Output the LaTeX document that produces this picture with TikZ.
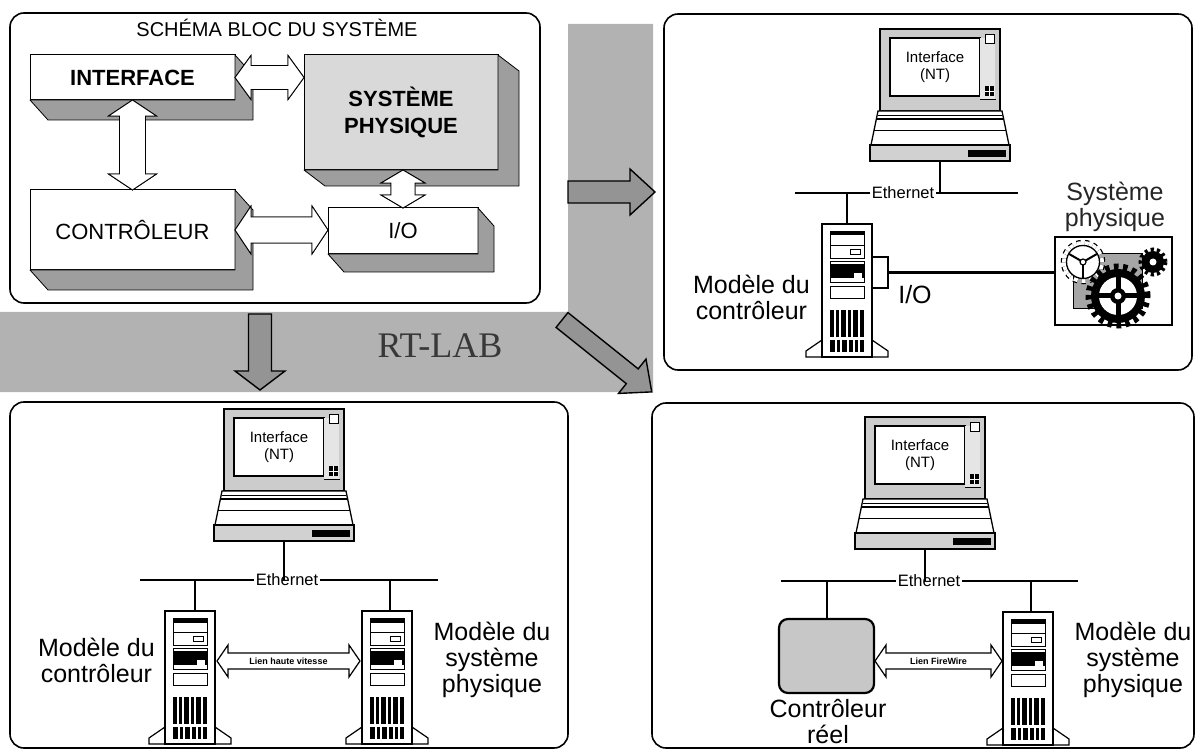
\documentclass[tikz,border=0pt]{standalone}
\usepackage{fontspec}
\setmainfont{Liberation Sans}
\newfontfamily\rtfont{Liberation Serif}
\usetikzlibrary{calc}

\tikzset{
  panel/.style={draw=black, line width=1.6pt, rounded corners=14pt},
  band/.style={fill=black!30},
  bandarrow/.style={draw=black, line width=1.4pt, fill=black!42, line join=miter},
  face/.style={draw=black, line width=1pt, fill=white, inner sep=0pt, outer sep=0pt, anchor=north west},
  extr/.style={draw=black, line width=0.8pt, fill=black!38, line join=round},
  blockarrow/.style={draw=black, line width=0.9pt, fill=white},
  blockshadow/.style={draw=black, line width=0.8pt, fill=black!38},
  linkarrow/.style={draw=black, line width=1.2pt, fill=white},
  biglbl/.style={font=\fontsize{25}{26}\selectfont, align=center, inner sep=0pt},
  ethlbl/.style={font=\fontsize{16.5}{18}\selectfont, fill=white, inner sep=2pt},
  linklbl/.style={font=\fontsize{9}{10}\selectfont\bfseries, inner sep=0pt},
  bus/.style={line width=1.2pt},
  drop/.style={line width=2pt},
  devbox/.style={inner sep=0pt, outer sep=0pt, anchor=north},
  laptop/.pic={
    % screen bezel and display
    \filldraw[fill=black!20, draw=black, line width=1.6pt] (-60,0) rectangle (60,82);
    \filldraw[fill=white, draw=black, line width=1.1pt] (-50,9) rectangle (40,67);
    \fill[black!10] (40,9) rectangle (55,70);
    \draw[line width=0.8pt] (40,70) -- (56,70);
    \filldraw[fill=white, line width=0.8pt] (45,5) rectangle (54,14);
    \fill (45,57) rectangle (54,67);
    \draw[white, line width=0.6pt] (49.5,57) -- (49.5,67) (45,62) -- (54,62);
    \node[font=\fontsize{15}{17}\selectfont, align=center, inner sep=0pt] (-txt) at (-5,38) {Interface\\(NT)};
    % keyboard
    \filldraw[fill=white, line width=1.3pt] (-62,82) -- (62,82) -- (69,116) -- (-69,116) -- cycle;
    \draw[line width=2.2pt] (-63,90) -- (63,90);
    \draw[line width=0.6pt] (-62,86) -- (62,86) (-66,101) -- (66,101);
    % base slab
    \filldraw[fill=black!18, line width=1.3pt] (-70,116) rectangle (70,132);
    \fill (28,121) rectangle (66,128);
  },
  server/.pic={
    % feet
    \filldraw[fill=white, line width=1.2pt] (-25,116) -- (-41,127) -- (-41,133) -- (41,133) -- (41,127) -- (25,116) -- cycle;
    % tower
    \filldraw[fill=white, line width=1.4pt] (-25,0) rectangle (25,133);
    % drive bays
    \draw[line width=0.9pt] (-17,7) rectangle (17,21);
    \fill (-17,7) rectangle (17,11.5);
    \draw[line width=0.9pt] (-17,21) rectangle (17,34);
    \draw[line width=0.9pt] (3,25) rectangle (13,30);
    \draw[line width=0.9pt] (-17,37) rectangle (17,58);
    \fill (-17,40) rectangle (17,54);
    \fill[white] (7,49) rectangle (15,54);
    \draw[line width=0.9pt] (-17,62) rectangle (17,74);
    % grille
    \foreach \gx/\gw in {-17/4,-11/3,-6/5,1/3,6/5,13/4} \fill (\gx,86) rectangle ++(\gw,27);
    \foreach \gx/\gw in {-17/5,-10/3,-5/5,2/4,8/3,13/4} \fill (\gx,116) rectangle ++(\gw,12);
  }
}

% extruded side and bottom faces of a block
\newcommand\extrude[3]{%
  \filldraw[extr] (#1.south west) -- ++(#2,#3) -- ($(#1.south east)+(#2,#3)$)
    -- ($(#1.north east)+(#2,#3)$) -- (#1.north east) -- (#1.south east) -- cycle;}

% horizontal double block arrow: options, from, to, shaft half, head half, head length
\newcommand\dblarrowH[6]{%
  \path[#1] let \p1=(#2), \p2=(#3) in
   (\x1,\y1) -- (\x1+#6pt,\y1+#5pt) -- (\x1+#6pt,\y1+#4pt) -- (\x2-#6pt,\y1+#4pt)
   -- (\x2-#6pt,\y1+#5pt) -- (\x2,\y1) -- (\x2-#6pt,\y1-#5pt) -- (\x2-#6pt,\y1-#4pt)
   -- (\x1+#6pt,\y1-#4pt) -- (\x1+#6pt,\y1-#5pt) -- cycle;}

% vertical double block arrow (from the upper node to the lower one)
\newcommand\dblarrowV[6]{%
  \path[#1] let \p1=(#2), \p2=(#3) in
   (\x1,\y1) -- (\x1+#5pt,\y1-#6pt) -- (\x1+#4pt,\y1-#6pt) -- (\x1+#4pt,\y2+#6pt)
   -- (\x1+#5pt,\y2+#6pt) -- (\x1,\y2) -- (\x1-#5pt,\y2+#6pt) -- (\x1-#4pt,\y2+#6pt)
   -- (\x1-#4pt,\y1-#6pt) -- (\x1-#5pt,\y1-#6pt) -- cycle;}

% single flat arrow on the band: start, angle, length, shaft half, head half, head length
\newcommand\flatarrow[6]{%
  \begin{scope}[shift={(#1)},rotate=#2]
    \filldraw[bandarrow] (0,-#4) -- (#3-#6,-#4) -- (#3-#6,-#5) -- (#3,0)
      -- (#3-#6,#5) -- (#3-#6,#4) -- (0,#4) -- cycle;
  \end{scope}}

\begin{document}
\begin{tikzpicture}[x=1pt,y=-1pt]
\useasboundingbox (0,0) rectangle (1197,751);
\fill[white] (0,0) rectangle (1197,751);

% ---------- RT-LAB band ----------
\fill[band] (568,24) -- (653,24) -- (653,392) -- (0,392) -- (0,312) -- (568,312) -- cycle;
\coordinate (toRT) at (568,192);
\coordinate (toBL) at (260,314);
\coordinate (toBR) at (562,320);
\flatarrow{toRT}{0}{87}{11}{23}{25}
\flatarrow{toBL}{-90}{76}{11.5}{25}{19}
\flatarrow{toBR}{-38.7}{115}{9.5}{22}{25}
\node[font=\rtfont\fontsize{36}{38}\selectfont, text=black!78] (rtlab) at (440,346) {RT-LAB};

% ---------- block diagram ----------
\draw[panel] (10,13) rectangle (540,303);
\node[font=\fontsize{20}{22}\selectfont] (title) at (277,28) {SCHÉMA BLOC DU SYSTÈME};

\node[face, minimum width=205pt, minimum height=45pt, font=\fontsize{22}{24}\selectfont\bfseries] (iface) at (30,55) {INTERFACE};
\extrude{iface}{18}{20}
\node[face, fill=black!15, minimum width=194pt, minimum height=115pt, align=center, font=\fontsize{22}{27}\selectfont\bfseries] (sysph) at (304,55) {SYSTÈME\\PHYSIQUE};
\extrude{sysph}{21}{16}
\node[face, minimum width=205pt, minimum height=80pt, font=\fontsize{22}{24}\selectfont] (ctrl) at (30,190) {CONTRÔLEUR};
\extrude{ctrl}{18}{20}
\node[face, minimum width=150pt, minimum height=46pt, font=\fontsize{22}{24}\selectfont] (io) at (328,208) {I/O};
\extrude{io}{16}{18}

\dblarrowH{blockshadow, shift={(8,10)}}{iface.east}{iface.east -| sysph.west}{12}{22}{16}
\dblarrowH{blockarrow}{iface.east}{iface.east -| sysph.west}{12}{22}{16}
\dblarrowV{blockshadow, shift={(10,8)}}{iface.south}{iface.south |- ctrl.north}{13}{24}{16}
\dblarrowV{blockarrow}{iface.south}{iface.south |- ctrl.north}{13}{24}{16}
\dblarrowH{blockshadow, shift={(8,10)}}{ctrl.east}{ctrl.east -| io.west}{13}{24}{16}
\dblarrowH{blockarrow}{ctrl.east}{ctrl.east -| io.west}{13}{24}{16}
\dblarrowV{blockshadow, shift={(10,8)}}{io.north |- sysph.south}{io.north}{12}{22}{13}
\dblarrowV{blockarrow}{io.north |- sysph.south}{io.north}{12}{22}{13}

% ---------- top right: controller model with I/O ----------
\draw[panel] (664,14) rectangle (1192,370);
\node[devbox, minimum width=140pt, minimum height=132pt] (lapTR) at (940,29) {};
\pic (lapTRp) at (lapTR.north) {laptop};
\coordinate (busTRl) at (795,193);
\coordinate (busTRr) at (1018,193);
\draw[bus] (busTRl) -- (busTRr);
\node[ethlbl] (ethTR) at (903,193) {Ethernet};
\draw[bus] (lapTR.south) -- (lapTR.south |- busTRl);
\node[devbox, minimum width=50pt, minimum height=133pt] (srvTR) at (847,224) {};
\pic (srvTRp) at (srvTR.north) {server};
\draw[drop] (srvTR.north) -- (srvTR.north |- busTRl);
\node[draw, line width=1.2pt, inner sep=0pt, outer sep=0pt, minimum width=16pt, minimum height=31pt, anchor=north west] (ioport) at (872,257) {};
\node[draw, line width=1.2pt, fill=white, inner sep=0pt, outer sep=0pt, minimum width=117pt, minimum height=88pt, anchor=north west] (gearbox) at (1055,237) {};
\draw[line width=2.4pt] (ioport.east) -- (ioport.east -| gearbox.west);
% gears
\fill[black!35] (1073,253) rectangle (1142,308);
\draw[line width=0.6pt] (1073,253) rectangle (1142,308);
\draw[line width=6.5pt, dash pattern=on 4pt off 4pt] (1083,262) circle (19pt);
\draw[line width=4pt, white, dash pattern=on 4pt off 4pt] (1083,262) circle (19pt);
\filldraw[fill=white, line width=1.3pt] (1083,262) circle (16.5pt);
\foreach \ga in {90,210,330} \draw[line width=2pt] (1083,262) -- ++(\ga:16);
\filldraw[fill=white, line width=1.2pt] (1083,262) circle (3pt);
\draw[line width=5pt, dash pattern=on 3pt off 3pt] (1153,262) circle (12pt);
\fill (1153,262) circle (11pt);
\fill[white] (1153,262) circle (3.5pt);
\draw[line width=7pt, dash pattern=on 4.5pt off 4.5pt] (1118,296) circle (29pt);
\fill (1118,296) circle (27pt);
\fill[white] (1118,296) circle (19pt);
\draw[line width=5pt] (1099,296) -- (1137,296) (1118,277) -- (1118,315);
\fill (1118,296) circle (8pt);
\fill[white] (1118,296) circle (3.5pt);
\node[biglbl, anchor=east] (lblTRc) at (810,297) {Modèle du\\contrôleur};
\node[biglbl] (lblTRio) at (915,295) {I/O};
\node[biglbl, text=black!85] (lblTRs) at (1115,207) {Système\\physique};

% ---------- bottom left: two simulators ----------
\draw[panel] (10,402) rectangle (568,748);
\node[devbox, minimum width=140pt, minimum height=132pt] (lapBL) at (284,409) {};
\pic (lapBLp) at (lapBL.north) {laptop};
\coordinate (busBLl) at (140,580);
\coordinate (busBLr) at (438,580);
\draw[bus] (busBLl) -- (busBLr);
\node[ethlbl] (ethBL) at (287,580) {Ethernet};
\draw[bus] (lapBL.south) -- (lapBL.south |- busBLl);
\node[devbox, minimum width=50pt, minimum height=133pt] (srvBLa) at (190,611) {};
\pic (srvBLap) at (srvBLa.north) {server};
\node[devbox, minimum width=50pt, minimum height=133pt] (srvBLb) at (387,611) {};
\pic (srvBLbp) at (srvBLb.north) {server};
\draw[drop] ($(srvBLa.north)+(5,0)$) -- ($(srvBLa.north |- busBLl)+(5,0)$);
\draw[drop] ($(srvBLb.north)+(3,0)$) -- ($(srvBLb.north |- busBLl)+(3,0)$);
\dblarrowH{linkarrow}{$(srvBLa.north east)+(2,50)$}{$(srvBLb.north west)+(-2,50)$}{8}{16}{11}
\node[linklbl] (lnkBL) at ($(srvBLa.north east)!0.5!(srvBLb.north west)+(0,50)$) {Lien haute vitesse};
\node[biglbl, anchor=east] (lblBLc) at (155,660) {Modèle du\\contrôleur};
\node[biglbl] (lblBLs) at (492,660) {Modèle du\\système\\physique};

% ---------- bottom right: real controller ----------
\draw[panel] (652,403) rectangle (1194,748);
\node[devbox, minimum width=140pt, minimum height=132pt] (lapBR) at (925,417) {};
\pic (lapBRp) at (lapBR.north) {laptop};
\coordinate (busBRl) at (781,581);
\coordinate (busBRr) at (1078,581);
\draw[bus] (busBRl) -- (busBRr);
\node[ethlbl] (ethBR) at (929,581) {Ethernet};
\draw[bus] (lapBR.south) -- (lapBR.south |- busBRl);
\node[draw, line width=2.2pt, fill=black!22, rounded corners=9pt, inner sep=0pt, outer sep=0pt, minimum width=95pt, minimum height=74pt, anchor=north west] (ctrlR) at (779,619) {};
\draw[drop] (ctrlR.north) -- (ctrlR.north |- busBRl);
\node[devbox, minimum width=50pt, minimum height=133pt] (srvBR) at (1028,612) {};
\pic (srvBRp) at (srvBR.north) {server};
\draw[drop] ($(srvBR.north)+(3,0)$) -- ($(srvBR.north |- busBRl)+(3,0)$);
\dblarrowH{linkarrow}{$(ctrlR.north east)+(1,42)$}{$(srvBR.north west)+(-1,49)$}{8}{16}{11}
\node[linklbl] (lnkBR) at ($(ctrlR.north east)!0.5!(srvBR.north west)+(0,46)$) {Lien FireWire};
\node[biglbl] (lblBRc) at (828,722) {Contrôleur\\réel};
\node[biglbl] (lblBRs) at (1133,660) {Modèle du\\système\\physique};
\end{tikzpicture}
\end{document}
